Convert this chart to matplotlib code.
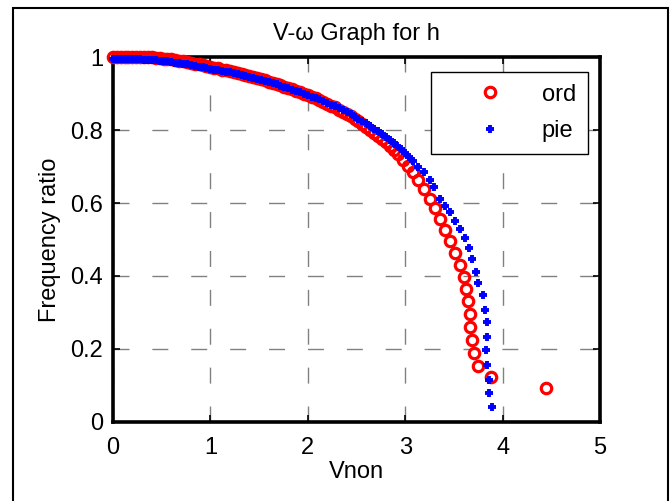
import numpy as np
import matplotlib.pyplot as plt
from matplotlib.patches import Rectangle

plt.rcParams['font.family'] = ['Liberation Sans', 'DejaVu Sans']

# "ord" series (red circles)
ord_x = [0.00, 0.04, 0.08, 0.12, 0.16, 0.20, 0.24, 0.28, 0.32, 0.36,
         0.40, 0.44, 0.48, 0.52, 0.56, 0.60, 0.64, 0.68, 0.72, 0.76,
         0.80, 0.84, 0.88, 0.92, 0.96, 1.00, 1.04, 1.08, 1.12, 1.16,
         1.20, 1.24, 1.28, 1.32, 1.36, 1.40, 1.44, 1.48, 1.52, 1.56,
         1.60, 1.64, 1.68, 1.72, 1.76, 1.80, 1.84, 1.88, 1.92, 1.96,
         2.00, 2.04, 2.08, 2.12, 2.16, 2.20, 2.24, 2.28, 2.32, 2.36,
         2.40, 2.44, 2.48, 2.52, 2.56, 2.60, 2.64, 2.68, 2.72, 2.76,
         2.80, 2.84, 2.88, 2.93, 2.98, 3.03, 3.08, 3.135, 3.19, 3.25,
         3.31, 3.36, 3.41, 3.46, 3.51, 3.56, 3.60, 3.62, 3.645, 3.66,
         3.665, 3.69, 3.71, 3.75, 3.88, 4.44]
ord_y = [1.000, 1.000, 1.000, 1.000, 1.000, 1.000, 1.000, 0.999, 0.999, 0.999,
         0.999, 0.998, 0.997, 0.996, 0.995, 0.994, 0.992, 0.990, 0.988, 0.986,
         0.984, 0.982, 0.980, 0.978, 0.976, 0.973, 0.971, 0.969, 0.966, 0.964,
         0.961, 0.959, 0.956, 0.954, 0.951, 0.948, 0.945, 0.942, 0.939, 0.936,
         0.933, 0.930, 0.926, 0.923, 0.919, 0.916, 0.912, 0.908, 0.904, 0.900,
         0.896, 0.891, 0.887, 0.882, 0.877, 0.872, 0.867, 0.862, 0.856, 0.850,
         0.844, 0.838, 0.831, 0.824, 0.817, 0.809, 0.801, 0.793, 0.785, 0.776,
         0.767, 0.757, 0.746, 0.733, 0.719, 0.702, 0.684, 0.662, 0.639, 0.612,
         0.585, 0.556, 0.527, 0.496, 0.462, 0.429, 0.397, 0.364, 0.330, 0.295,
         0.260, 0.225, 0.190, 0.152, 0.122, 0.094]

# "pie" series (blue plus)
pie_x = [0.00, 0.04, 0.08, 0.12, 0.16, 0.20, 0.24, 0.28, 0.32, 0.36,
         0.40, 0.44, 0.48, 0.52, 0.56, 0.60, 0.64, 0.68, 0.72, 0.76,
         0.80, 0.84, 0.88, 0.92, 0.96, 1.00, 1.04, 1.08, 1.12, 1.16,
         1.20, 1.24, 1.28, 1.32, 1.36, 1.40, 1.44, 1.48, 1.52, 1.56,
         1.60, 1.64, 1.68, 1.72, 1.76, 1.80, 1.84, 1.88, 1.92, 1.96,
         2.00, 2.04, 2.08, 2.12, 2.16, 2.20, 2.24, 2.28, 2.32, 2.36,
         2.40, 2.44, 2.48, 2.52, 2.56, 2.60, 2.64, 2.68, 2.72, 2.76,
         2.80, 2.84, 2.88, 2.92, 2.96, 3.00, 3.04, 3.08, 3.13, 3.19,
         3.25, 3.30, 3.36, 3.41, 3.46, 3.51, 3.56, 3.61, 3.65, 3.69,
         3.73, 3.75, 3.80, 3.82, 3.84, 3.84, 3.83, 3.84, 3.86, 3.86,
         3.89]
pie_y = [0.995, 0.995, 0.995, 0.995, 0.995, 0.994, 0.994, 0.994, 0.993, 0.993,
         0.992, 0.991, 0.990, 0.989, 0.988, 0.987, 0.985, 0.984, 0.982, 0.980,
         0.978, 0.976, 0.974, 0.972, 0.970, 0.968, 0.966, 0.964, 0.962, 0.960,
         0.958, 0.956, 0.954, 0.951, 0.949, 0.946, 0.943, 0.940, 0.937, 0.934,
         0.931, 0.928, 0.925, 0.922, 0.918, 0.915, 0.911, 0.908, 0.904, 0.900,
         0.896, 0.892, 0.888, 0.884, 0.879, 0.875, 0.870, 0.865, 0.860, 0.855,
         0.849, 0.843, 0.837, 0.831, 0.825, 0.818, 0.811, 0.804, 0.797, 0.790,
         0.782, 0.774, 0.765, 0.756, 0.747, 0.737, 0.726, 0.714, 0.700, 0.684,
         0.664, 0.645, 0.612, 0.593, 0.575, 0.552, 0.528, 0.504, 0.476, 0.446,
         0.411, 0.382, 0.348, 0.308, 0.274, 0.233, 0.197, 0.156, 0.114, 0.080,
         0.042]

fig = plt.figure(figsize=(6.72, 5.01), dpi=100)
ax = fig.add_axes([0.168, 0.158, 0.725, 0.728])

# outer frame
fig.patches.append(Rectangle((13 / 672, -0.02), 655 / 672, 1.02 - 8 / 501,
                             transform=fig.transFigure, fill=False,
                             edgecolor='black', linewidth=1.5))

ax.plot(ord_x, ord_y, 'o', linestyle='none', markerfacecolor='none',
        markeredgecolor='#ff0000', markersize=7.5, markeredgewidth=2.3,
        label='ord', clip_on=False, zorder=3)
ax.plot(pie_x, pie_y, '+', linestyle='none', color='#0000ff',
        markersize=6, markeredgewidth=2.8, label='pie', clip_on=False, zorder=4)

ax.set_xlim(0, 5)
ax.set_ylim(0, 1)
ax.set_xticks([0, 1, 2, 3, 4, 5])
ax.set_yticks([0, 0.2, 0.4, 0.6, 0.8, 1])
ax.set_yticklabels(['0', '0.2', '0.4', '0.6', '0.8', '1'])

ax.grid(True, color='#808080', linewidth=1.0, linestyle=(0, (11.5, 16.5)))
ax.set_axisbelow(True)
for s in ax.spines.values():
    s.set_linewidth(2.6)
ax.tick_params(direction='in', top=True, right=True, length=5, width=1.2,
               labelsize=17)
ax.tick_params(axis='x', pad=11)
ax.tick_params(axis='y', pad=7)

ax.set_title('V-ω Graph for h', fontsize=17, pad=12)
ax.set_xlabel('Vnon', fontsize=17, labelpad=1)
ax.set_ylabel('Frequency ratio', fontsize=17, labelpad=7)

leg = ax.legend(loc='upper right', bbox_to_anchor=(0.975, 0.96), fontsize=17,
                fancybox=False, edgecolor='black', framealpha=1,
                borderpad=0.5, handlelength=4.0, handletextpad=0.2,
                labelspacing=0.62, borderaxespad=0)
leg.get_frame().set_linewidth(1.0)

fig.savefig('out.png', dpi=100)
